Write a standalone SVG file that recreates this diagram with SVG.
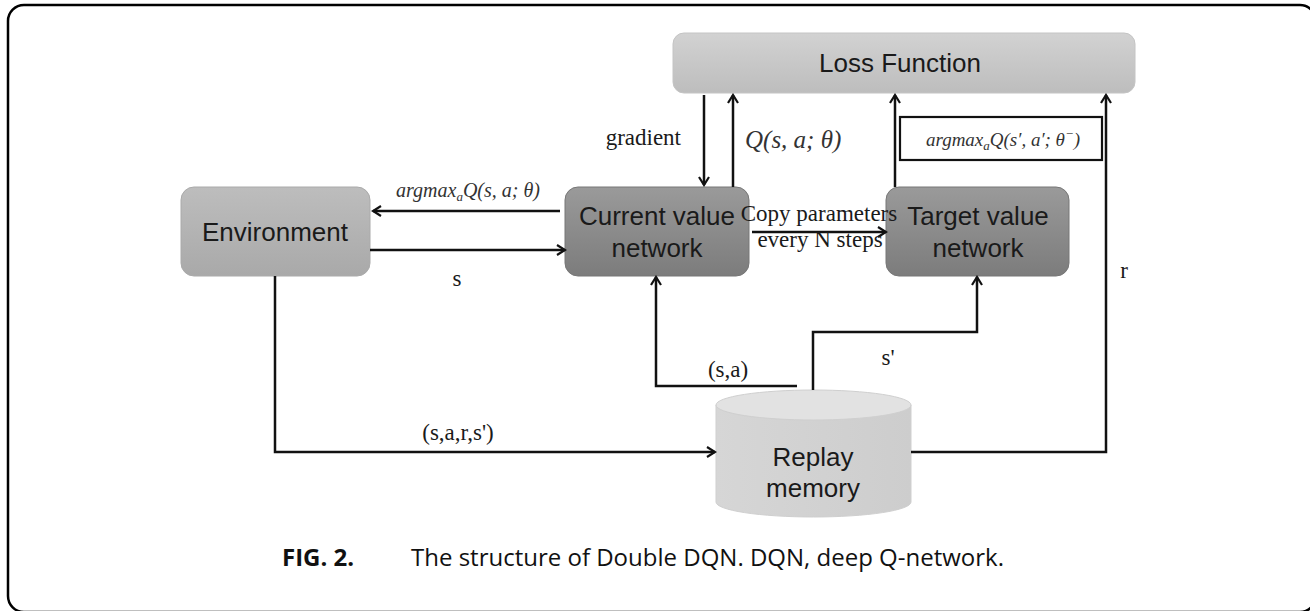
<svg xmlns="http://www.w3.org/2000/svg" width="1310" height="611" viewBox="0 0 1310 611">
<style>
.lbl{font-family:"Liberation Sans",Arial,sans-serif;font-size:26px;fill:#1a1a1a;text-anchor:middle}
.ser{font-family:"Liberation Serif","Times New Roman",serif;font-size:23px;fill:#1a1a1a}
.math{font-family:"Liberation Serif","Times New Roman",serif;font-style:italic;fill:#333}
.ln{fill:none;stroke:#111;stroke-width:2.5}
.cap{font-family:"Open Sans","Noto Sans",sans-serif;font-size:24px;fill:#111}
</style>
<defs>
<marker id="ah" viewBox="0 0 12 12" refX="10" refY="6" markerWidth="12" markerHeight="12" markerUnits="userSpaceOnUse" orient="auto">
<path d="M2,1 L10,6 L2,11" fill="none" stroke="#111" stroke-width="2.2"/>
</marker>
<linearGradient id="gLight" x1="0" y1="0" x2="0" y2="1"><stop offset="0" stop-color="#d2d2d2"/><stop offset="1" stop-color="#bdbdbd"/></linearGradient>
<linearGradient id="gEnv" x1="0" y1="0" x2="0" y2="1"><stop offset="0" stop-color="#bdbdbd"/><stop offset="1" stop-color="#a9a9a9"/></linearGradient>
<linearGradient id="gDark" x1="0" y1="0" x2="0" y2="1"><stop offset="0" stop-color="#9a9a9a"/><stop offset="1" stop-color="#7c7c7c"/></linearGradient>
<linearGradient id="gCyl" x1="0" y1="0" x2="1" y2="0"><stop offset="0" stop-color="#d6d6d6"/><stop offset="1" stop-color="#cdcdcd"/></linearGradient>
</defs>
<rect x="8" y="5" width="1308" height="607" rx="16" fill="#fff" stroke="#000" stroke-width="2.5"/>

<g id="loss">
<rect x="673" y="33" width="462" height="60" rx="11" fill="url(#gLight)" stroke="#c4c4c4" stroke-width="1"/>
<text class="lbl" x="900" y="72">Loss Function</text>
</g>
<g id="environment">
<rect x="181" y="187" width="189" height="89" rx="13" fill="url(#gEnv)" stroke="#aaa" stroke-width="1"/>
<text class="lbl" x="275" y="241">Environment</text>
</g>
<g id="current">
<rect x="565" y="187" width="184" height="89" rx="13" fill="url(#gDark)" stroke="#777" stroke-width="1"/>
<text class="lbl" x="657" y="225">Current value</text>
<text class="lbl" x="657" y="257">network</text>
</g>
<g id="target">
<rect x="886" y="187" width="183" height="89" rx="13" fill="url(#gDark)" stroke="#777" stroke-width="1"/>
<text class="lbl" x="978" y="225">Target value</text>
<text class="lbl" x="978" y="257">network</text>
</g>
<g id="replay">
<path d="M716,405 L716,502 A97.5,15 0 0 0 911,502 L911,405 Z" fill="url(#gCyl)" stroke="#cfcfcf" stroke-width="1"/>
<ellipse cx="813.5" cy="405" rx="97.5" ry="15" fill="#e2e2e2" stroke="#cfcfcf" stroke-width="1"/>
<text class="lbl" x="813" y="466">Replay</text>
<text class="lbl" x="813" y="497">memory</text>
</g>
<g id="argmax-target">
<rect x="900" y="117" width="202" height="43" fill="#fff" stroke="#111" stroke-width="2.2"/>
<text class="math" x="1003" y="146" font-size="19" text-anchor="middle">argmax<tspan font-size="13" dy="4">a</tspan><tspan dy="-4">Q(s′, a′; θ</tspan><tspan font-size="13" dy="-8">−</tspan><tspan dy="8">)</tspan></text>
</g>

<g id="connectors">
<line class="ln" x1="704" y1="95" x2="704" y2="185" marker-end="url(#ah)"/>
<line class="ln" x1="733" y1="187" x2="733" y2="95" marker-end="url(#ah)"/>
<line class="ln" x1="560" y1="211" x2="373" y2="211" marker-end="url(#ah)"/>
<line class="ln" x1="370" y1="250" x2="565" y2="250" marker-end="url(#ah)"/>
<line class="ln" x1="752" y1="232" x2="886" y2="232" marker-end="url(#ah)"/>
<line class="ln" x1="895" y1="187" x2="895" y2="95" marker-end="url(#ah)"/>
<polyline class="ln" points="275,276 275,452 715,452" marker-end="url(#ah)"/>
<polyline class="ln" points="797,386 656,386 656,277" marker-end="url(#ah)"/>
<polyline class="ln" points="813,390 813,332 977,332 977,277" marker-end="url(#ah)"/>
<polyline class="ln" points="911,452 1106,452 1106,95" marker-end="url(#ah)"/>
</g>

<g id="labels">
<text class="ser" x="681" y="145" font-size="25" text-anchor="end">gradient</text>
<text class="math" x="745" y="148" font-size="25">Q(s, a; θ)</text>
<text class="math" x="468" y="197" font-size="20" text-anchor="middle">argmax<tspan font-size="13" dy="4">a</tspan><tspan dy="-4">Q(s, a; θ)</tspan></text>
<text class="ser" x="457" y="286" text-anchor="middle">s</text>
<text class="ser" x="819" y="221" font-size="16" text-anchor="middle">Copy parameters</text>
<text class="ser" x="820" y="247" font-size="16" text-anchor="middle">every N steps</text>
<text class="ser" x="728" y="377" font-size="24" text-anchor="middle">(s,a)</text>
<text class="ser" x="888" y="365" font-size="24" text-anchor="middle">s'</text>
<text class="ser" x="458" y="440" font-size="24" text-anchor="middle">(s,a,r,s')</text>
<text class="ser" x="1124" y="278" text-anchor="middle">r</text>
</g>
<text class="cap" x="282" y="566"><tspan font-weight="bold">FIG. 2.</tspan><tspan x="411">The structure of Double DQN. DQN, deep Q-network.</tspan></text>
</svg>
